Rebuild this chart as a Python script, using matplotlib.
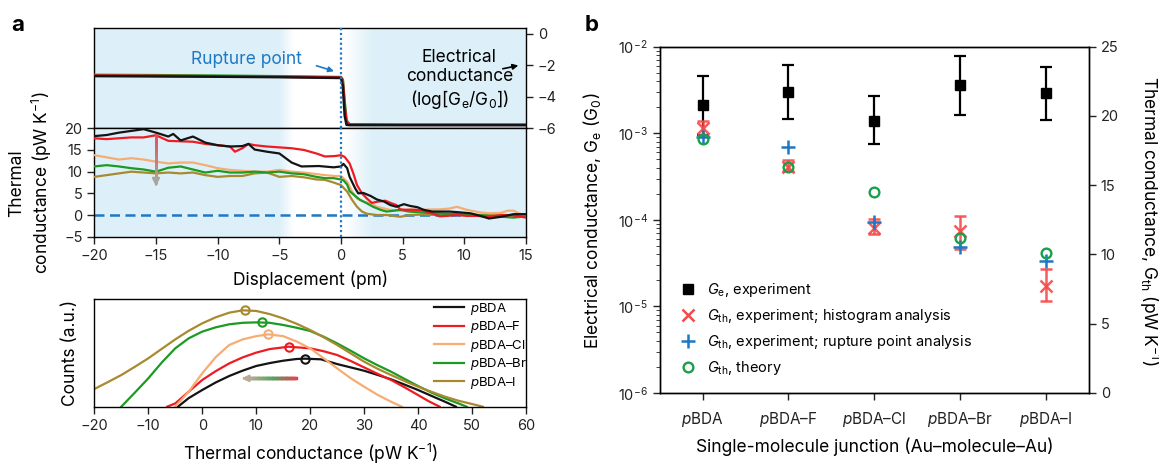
import numpy as np
import matplotlib
matplotlib.use("Agg")
import matplotlib.pyplot as plt
from matplotlib.collections import LineCollection
from matplotlib.colors import LinearSegmentedColormap, to_rgb

plt.rcParams['font.family'] = ['Inter', 'DejaVu Sans']
plt.rcParams['mathtext.fontset'] = 'custom'
plt.rcParams['mathtext.rm'] = 'Inter'
plt.rcParams['mathtext.it'] = 'Inter:italic'
plt.rcParams['mathtext.bf'] = 'Inter:bold'
plt.rcParams['font.size'] = 10
plt.rcParams['axes.linewidth'] = 1.0
for ax_ in ('xtick', 'ytick'):
    plt.rcParams[ax_ + '.major.size'] = 5
    plt.rcParams[ax_ + '.major.width'] = 1.0
    plt.rcParams[ax_ + '.minor.size'] = 3
    plt.rcParams[ax_ + '.labelsize'] = 10.5
    plt.rcParams[ax_ + '.color'] = '#222222'

# ---------------- data : panel a, electrical conductance log(Ge/G0)
ge_disp = [-20, -15, -10, -5, -2, 0, 0.15, 0.3, 0.45, 0.7, 5, 10, 15]
ge_black = [-2.68, -2.7, -2.72, -2.75, -2.78, -2.8, -3.3, -5.2, -5.78, -5.8, -5.8, -5.8, -5.8]
ge_red = [-2.64, -2.66, -2.69, -2.72, -2.75, -2.77, -3.0, -4.6, -5.55, -5.76, -5.78, -5.78, -5.78]
ge_green = [-2.6, -2.62, -2.65, -2.69, -2.72, -2.74, -2.9, -4.3, -5.5, -5.75, -5.77, -5.77, -5.77]

# ---------------- data : panel a, thermal conductance traces (pW/K)
th_black_x = [-20, -19, -18, -17, -16, -15, -14, -13.6, -13, -12, -11, -10, -9, -8, -7.5, -7, -6, -5, -4,
              -3.2, -1.8, -0.6, 0, 0.2, 0.5, 0.7, 1.15, 1.4, 1.8, 2.4, 2.9, 3.5, 4.0, 4.5, 5.1, 5.6, 6.2,
              6.7, 7.4, 8.0, 8.8, 9.7, 10.5, 11.3, 12, 12.5, 13, 14, 15]
th_black = [18.2, 18.45, 19.0, 19.4, 19.8, 19.0, 18.1, 18.7, 17.2, 18.1, 16.7, 16.1, 15.8, 15.9, 16.4, 15.1,
            14.6, 14.2, 12.1, 11.2, 11.3, 11.0, 11.2, 11.8, 10.8, 8.8, 6.15, 5.0, 5.1, 4.4, 3.6, 3.1, 2.3,
            1.9, 2.5, 2.1, 1.8, 1.2, 0.8, 0.8, 0.8, 0.6, 0.4, -0.2, -0.8, -0.6, -0.4, 0.2, 0.2]
th_red_x = [-20, -19, -18, -17, -16, -15, -14, -13, -12, -11, -10, -9, -8.6, -8, -7.5, -7, -6, -5, -4, -3,
            -2, -1.3, -0.5, 0, 0.3, 0.7, 1.0, 1.3, 1.7, 2.1, 2.5, 3.0, 3.6, 4.1, 4.5, 4.8, 5.3, 6.0, 6.7,
            7.5, 8.0, 8.6, 9.4, 10.2, 11, 12, 13, 14, 15]
th_red = [17.7, 17.5, 17.7, 17.9, 17.9, 18.4, 17.1, 17.0, 16.9, 16.4, 16.1, 15.8, 14.6, 15.4, 16.4, 16.1,
          15.8, 15.6, 15.4, 15.0, 14.2, 13.5, 13.6, 13.8, 13.4, 11.9, 9.6, 6.9, 5.0, 3.8, 2.8, 3.1, 3.3,
          2.7, 2.3, 1.3, 1.2, 1.2, 1.0, 0.3, -0.3, -0.2, 0.0, -0.2, -0.2, -0.4, 0.0, -0.1, -0.6]
th_tan_x = [-20, -19, -18, -17, -16, -15, -14, -13, -12, -11, -10, -9, -8, -7, -6, -5, -4, -3, -2, -1.3,
            -0.5, 0, 0.5, 0.9, 1.3, 1.8, 2.4, 2.9, 3.5, 4.0, 4.8, 5.6, 6.4, 7.5, 8.0, 8.8, 9.4, 10.2,
            11.3, 12, 13, 13.5, 14, 14.5, 15]
th_tan = [13.8, 13.3, 12.8, 13.1, 12.8, 12.3, 11.9, 12.1, 12.1, 11.5, 10.8, 10.4, 10.2, 10.0, 10.0, 10.4,
          10.0, 9.8, 9.45, 9.2, 9.0, 9.0, 7.7, 5.4, 3.8, 3.1, 2.7, 1.9, 1.5, 1.2, 1.0, 1.3, 1.2, 1.3, 1.3,
          1.5, 1.9, 1.2, 0.6, 0.4, 0.5, 1.0, 1.0, 0.3, 0.0]
th_green_x = [-20, -19, -18, -17, -16, -15, -14, -13, -12, -11, -10, -9, -8, -7, -6, -5, -4, -3, -2, -1.3,
              -0.6, 0, 0.2, 0.5, 0.7, 1.15, 1.55, 2.1, 2.6, 3.2, 3.7, 4.3, 4.8, 5.5, 6.5, 7.5, 8.5, 9.5,
              10.5, 11.5, 12.5, 13.5, 14, 15]
th_green = [11.2, 11.5, 11.2, 10.8, 10.5, 10.0, 10.9, 11.2, 10.5, 9.8, 10.2, 9.8, 9.8, 10.0, 9.8, 10.0,
            9.6, 9.4, 8.8, 8.5, 8.5, 8.2, 8.0, 7.0, 5.5, 4.4, 3.5, 2.7, 1.9, 1.2, 0.8, 1.0, 1.2, 0.8, 0.6,
            0.4, 0.3, 0.2, 0.1, -0.1, -0.3, -0.5, -0.6, -0.3]
th_brown_x = [-20, -19, -18, -17, -16, -15, -14, -13, -12, -11, -10, -9, -8, -7, -6, -5, -4, -3, -2, -1.3,
              -0.6, 0, 0.5, 0.9, 1.3, 1.7, 2.1, 2.9, 3.7, 4.8, 5.6, 6.5, 8, 10, 12, 15]
th_brown = [8.8, 9.2, 9.6, 10.0, 9.8, 9.6, 9.8, 9.6, 9.8, 9.2, 8.8, 9.0, 9.0, 9.6, 9.8, 8.8, 9.0, 8.7, 8.2,
            8.1, 7.5, 6.9, 5.4, 3.5, 1.9, 0.8, 0.3, 0.0, 0.0, -0.4, 0.0, 0.1, 0.0, 0.1, 0.0, 0.0]

# ---------------- data : panel a, histogram fits (counts, a.u.)
h_black_x = [-4.5, -2.5, 0, 2.5, 5, 7.5, 10, 12.5, 15, 17.5, 19, 22, 25, 27.5, 30, 32.5, 35, 37.5, 40, 42.5, 45, 47]
h_black = [0, 0.08, 0.155, 0.225, 0.285, 0.335, 0.378, 0.405, 0.427, 0.443, 0.446, 0.44, 0.396, 0.365,
           0.334, 0.295, 0.254, 0.205, 0.155, 0.1, 0.046, 0]
h_red_x = [-6.5, -5, -2.5, 0, 2.5, 5, 7.5, 10, 12.5, 16, 20, 22.5, 25, 27.5, 30, 32.5, 35, 37.5, 40, 42, 44]
h_red = [0, 0.03, 0.14, 0.248, 0.33, 0.402, 0.458, 0.502, 0.535, 0.557, 0.542, 0.515, 0.48, 0.425, 0.365,
         0.305, 0.248, 0.18, 0.108, 0.05, 0]
h_tan_x = [-5, -2.5, 0, 2.5, 5, 7.5, 10, 12.2, 15, 17.5, 20, 22.5, 25, 27.5, 30, 32.5, 35, 37]
h_tan = [0, 0.14, 0.31, 0.46, 0.573, 0.625, 0.655, 0.672, 0.655, 0.605, 0.542, 0.45, 0.356, 0.265, 0.186,
         0.11, 0.046, 0]
h_green_x = [-15, -12.5, -10, -7.5, -5, -2.5, 0, 2.5, 5, 7.5, 10, 12.5, 15, 17.5, 20, 22.5, 25, 27.5, 30,
             32.5, 35, 37.5, 40, 42.5, 45, 47.5, 49]
h_green = [0, 0.13, 0.263, 0.41, 0.542, 0.635, 0.697, 0.737, 0.765, 0.779, 0.783, 0.779, 0.759, 0.733,
           0.703, 0.65, 0.588, 0.52, 0.449, 0.385, 0.325, 0.258, 0.192, 0.13, 0.077, 0.03, 0]
h_brown_x = [-20, -17.5, -15, -12.5, -10, -7.5, -5, -2.5, 0, 2.5, 5, 7.5, 10, 12.5, 15, 17.5, 20, 22.5, 25,
             27.5, 30, 32.5, 35, 37.5, 40, 42.5, 45, 47.5, 50, 52]
h_brown = [0.164, 0.228, 0.294, 0.37, 0.449, 0.537, 0.625, 0.705, 0.774, 0.83, 0.873, 0.895, 0.889, 0.86,
           0.82, 0.77, 0.712, 0.645, 0.573, 0.495, 0.418, 0.352, 0.294, 0.238, 0.186, 0.138, 0.093, 0.055,
           0.025, 0]
peak_x = [19, 16, 12.2, 11, 8]
peak_y = [0.446, 0.557, 0.672, 0.783, 0.898]

# ---------------- data : panel b
molecules = ['$\\mathit{p}$BDA', '$\\mathit{p}$BDA–F', '$\\mathit{p}$BDA–Cl', '$\\mathit{p}$BDA–Br', '$\\mathit{p}$BDA–I']
ge = [2.13e-3, 2.96e-3, 1.40e-3, 3.63e-3, 2.91e-3]
ge_hi = [4.6e-3, 6.1e-3, 2.7e-3, 7.9e-3, 5.9e-3]
ge_lo = [0.95e-3, 1.47e-3, 0.75e-3, 1.63e-3, 1.43e-3]
gth_hist = [19.12, 16.34, 11.89, 11.71, 7.72]
gth_hist_hi = [19.64, 16.83, 12.54, 12.8, 8.92]
gth_hist_lo = [18.63, 16.03, 11.47, 10.37, 6.65]
gth_rupture = [18.45, 17.79, 12.37, 10.56, 9.55]
gth_theory = [18.34, 16.3, 14.49, 11.16, 10.08]

# ---------------- styles
c_black = '#141414'
c_red = '#ee1c22'
c_tan = '#f5ad74'
c_green = '#1c9a22'
c_brown = '#a88a2e'
c_blue = '#1f78c4'
c_bg = '#ddf0f9'

W, H = 1159, 467
fig = plt.figure(figsize=(W / 100, H / 100), dpi=100)


def fax(l, t, r, b):
    return fig.add_axes([l / W, 1 - b / H, (r - l) / W, (b - t) / H])


def grad_line(ax, xs, ys, cmap, lw):
    seg = [[(xs[i], ys[i]), (xs[i + 1], ys[i + 1])] for i in range(len(xs) - 1)]
    lc = LineCollection(seg, colors=[cmap(t) for t in np.linspace(0, 1, len(seg))], lw=lw,
                        capstyle='projecting', zorder=4)
    ax.add_collection(lc)


axT = fax(94.3, 28.3, 526, 128.3)
axM = fax(94.3, 128.3, 526, 236.7)
axH = fax(94.3, 299, 526, 406.7)
axB = fax(659.6, 46.7, 1089, 393)

# background shading with soft edges
bg_cmap = LinearSegmentedColormap.from_list('bg', ['white', c_bg])
xg = np.linspace(-20, 15, 800)
prof = np.interp(xg, [-20, -5, -3.8, 0.3, 2.6, 15], [1, 1, 0, 0, 1, 1])
for ax, (lo, hi) in ((axT, (-6, 0.36)), (axM, (-5, 20))):
    ax.imshow(prof[None, :], extent=(-20, 15, lo, hi), aspect='auto', cmap=bg_cmap,
              vmin=0, vmax=1, zorder=0, interpolation='bilinear')
    ax.set_xlim(-20, 15)
    ax.set_ylim(lo, hi)
    ax.axvline(0, color=c_blue, lw=1.6, ls=(0, (1, 1.2)), zorder=5)

# top: electrical conductance
for yv, c in ((ge_green, c_green), (ge_red, c_red), (ge_black, c_black)):
    axT.plot(ge_disp, yv, color=c, lw=1.8, zorder=3)
axT.yaxis.tick_right()
axT.set_yticks([0, -2, -4, -6])
axT.tick_params(axis='x', bottom=False, labelbottom=False)
axT.text(-7.67, -1.65, 'Rupture point', color=c_blue, fontsize=12.5, ha='center', va='center')
axT.annotate('', xy=(-0.35, -2.42), xytext=(-2.2, -1.97),
             arrowprops=dict(arrowstyle='-|>', color=c_blue, lw=1.2, mutation_scale=8))
axT.text(9.6, -2.93, 'Electrical\nconductance\n(log[G$_\\mathrm{e}$/G$_0$])', fontsize=12.5,
         ha='center', va='center', linespacing=1.15)
axT.annotate('', xy=(14.6, -1.97), xytext=(12.9, -2.25),
             arrowprops=dict(arrowstyle='-|>', color='black', lw=1.2, mutation_scale=8))

# middle: thermal conductance traces
axM.axhline(0, color=c_blue, lw=1.8, ls=(0, (4, 2.2)), zorder=2)
for xv, yv, c in ((th_brown_x, th_brown, c_brown), (th_tan_x, th_tan, c_tan),
                  (th_green_x, th_green, c_green), (th_red_x, th_red, c_red),
                  (th_black_x, th_black, c_black)):
    axM.plot(xv, yv, color=c, lw=1.6, zorder=3)
axM.set_yticks([20, 15, 10, 5, 0, -5])
axM.set_xticks(range(-20, 16, 5))
axM.set_xlabel('Displacement (pm)', fontsize=12.5, labelpad=6)

# vertical gradient arrow
arrow_v = LinearSegmentedColormap.from_list('v', ['#e05058', '#aaa49c'])
ya = np.linspace(18.4, 7.4, 40)
grad_line(axM, np.full_like(ya, -15), ya, arrow_v, 1.8)
axM.annotate('', xy=(-15, 6.0), xytext=(-15, 7.8),
             arrowprops=dict(arrowstyle='-|>', color='#aaa49c', lw=1.5, mutation_scale=11), zorder=4)

fig.text(31 / W, 1 - 183 / H, 'Thermal\nconductance (pW K$^{-1}$)', rotation=90,
         ha='center', va='center', fontsize=12.5, linespacing=1.3)

# histogram panel
for xv, yv, c, lab in ((h_black_x, h_black, c_black, molecules[0]), (h_red_x, h_red, c_red, molecules[1]),
                       (h_tan_x, h_tan, c_tan, molecules[2]), (h_green_x, h_green, c_green, molecules[3]),
                       (h_brown_x, h_brown, c_brown, molecules[4])):
    axH.plot(xv, yv, color=c, lw=1.6, label=lab)
for px, py, c in zip(peak_x, peak_y, (c_black, c_red, c_tan, c_green, c_brown)):
    axH.plot(px, py, 'o', ms=6, mfc='none', mec=c, mew=1.5)
arrow_h = LinearSegmentedColormap.from_list('h', ['#e8404e', '#58a060', '#bcaa98'])
xa = np.linspace(17.4, 8.2, 40)
grad_line(axH, xa, np.full_like(xa, 0.263), arrow_h, 2.4)
axH.annotate('', xy=(6.8, 0.263), xytext=(8.6, 0.263),
             arrowprops=dict(arrowstyle='-|>', color='#bcaa98', lw=1.5, mutation_scale=10))
axH.set_xlim(-20, 60)
axH.set_ylim(0, 1)
axH.set_yticks([])
axH.set_xticks(range(-20, 61, 10))
axH.set_xlabel('Thermal conductance (pW K$^{-1}$)', fontsize=12.5, labelpad=7)
fig.text(70.5 / W, 1 - 353 / H, 'Counts (a.u.)', rotation=90, ha='center', va='center', fontsize=12.5)
axH.legend(loc='upper left', bbox_to_anchor=(0.775, 1.03), frameon=False, fontsize=9.5,
           handlelength=2.3, handletextpad=0.4, labelspacing=0.18, borderaxespad=0)

# panel b
xpos = np.arange(len(molecules))
ge_a = np.array(ge)
axB.errorbar(xpos, ge_a, yerr=[ge_a - np.array(ge_lo), np.array(ge_hi) - ge_a], fmt='s', color='black',
             ms=6.5, lw=1.6, capsize=4.5, capthick=1.6, zorder=3)
axB.set_yscale('log')
axB.set_ylim(1e-6, 1e-2)
axB.set_xlim(-0.5, 4.5)
axB.set_xticks(xpos)
axB.set_xticklabels(molecules, fontsize=11)
axB.tick_params(axis='x', pad=7)

axB2 = axB.twinx()
gh = np.array(gth_hist)
axB2.errorbar(xpos, gh, yerr=[gh - np.array(gth_hist_lo), np.array(gth_hist_hi) - gh], fmt='x',
              color='#f54a4a', ms=9, mew=1.8, lw=1.8, capsize=4.5, capthick=1.8, alpha=0.9, zorder=3)
axB2.plot(xpos, gth_rupture, '+', color=c_blue, ms=10, mew=1.8, zorder=4)
axB2.plot(xpos, gth_theory, 'o', mfc='none', mec='#18a04c', ms=7, mew=1.7, zorder=5)
axB2.set_ylim(0, 25)
axB2.set_yticks(range(0, 26, 5))

fig.text(592 / W, 1 - 221 / H, 'Electrical conductance, G$_\\mathrm{e}$ (G$_0$)', rotation=90,
         ha='center', va='center', fontsize=12.5)
fig.text(1149 / W, 1 - 221 / H, 'Thermal conductance, G$_\\mathrm{th}$ (pW K$^{-1}$)', rotation=270,
         ha='center', va='center', fontsize=12.5)
axB.set_xlabel('Single-molecule junction (Au–molecule–Au)', fontsize=12.5, labelpad=6)

hs = [plt.Line2D([], [], ls='none', marker='s', color='black', ms=6.5),
      plt.Line2D([], [], ls='none', marker='x', color='#f54a4a', ms=9, mew=1.8),
      plt.Line2D([], [], ls='none', marker='+', color=c_blue, ms=10, mew=1.8),
      plt.Line2D([], [], ls='none', marker='o', mfc='none', mec='#18a04c', ms=7, mew=1.7)]
labs = ['$\\mathit{G}_\\mathrm{e}$, experiment',
        '$\\mathit{G}_\\mathrm{th}$, experiment; histogram analysis',
        '$\\mathit{G}_\\mathrm{th}$, experiment; rupture point analysis',
        '$\\mathit{G}_\\mathrm{th}$, theory']
axB2.legend(hs, labs, loc='lower left', bbox_to_anchor=(0.035, 0.03), frameon=False, fontsize=10.5,
            handlelength=1.0, handletextpad=0.8, labelspacing=0.55, borderaxespad=0)

fig.text(18 / W, 1 - 25 / H, 'a', fontsize=16, fontweight='bold', ha='center', va='center')
fig.text(592 / W, 1 - 25 / H, 'b', fontsize=16, fontweight='bold', ha='center', va='center')

fig.savefig('out.png', dpi=100)
